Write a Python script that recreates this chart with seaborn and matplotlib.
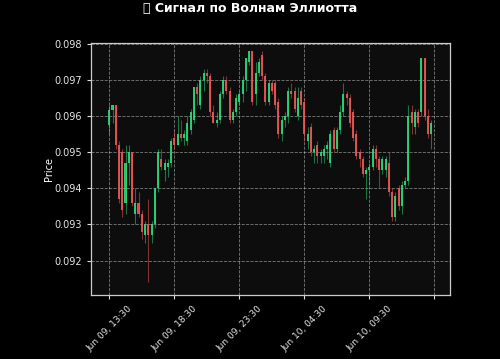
import matplotlib
matplotlib.use("Agg")
import matplotlib.pyplot as plt
import seaborn as sns
import numpy as np
import pandas as pd

# ---- data (15-minute candles starting Jun 09 13:30) ----
opens = [0.09574, 0.09618, 0.0963, 0.0952, 0.0950, 0.0936, 0.0947, 0.0950, 0.0933, 0.0936,
         0.0933, 0.0927, 0.0930, 0.0927, 0.0930, 0.0940, 0.0948, 0.0945, 0.0946, 0.0947,
         0.0954, 0.0952, 0.0955, 0.0954, 0.0953, 0.0956, 0.0959, 0.0968, 0.0963, 0.0970,
         0.0972, 0.0971, 0.0961, 0.0958, 0.0959, 0.0966, 0.0970, 0.0967, 0.0959, 0.0961,
         0.0964, 0.0966, 0.0970, 0.0975, 0.0978, 0.0966, 0.0972, 0.0977, 0.0971, 0.0964,
         0.0969, 0.0969, 0.0964, 0.0955, 0.0959, 0.0960, 0.0967, 0.0967, 0.0960, 0.0967,
         0.0964, 0.0953, 0.0957, 0.0950, 0.0952, 0.0949, 0.0949, 0.0951, 0.0947, 0.0956,
         0.0951, 0.0956, 0.0961, 0.0966, 0.0965, 0.0961, 0.0955, 0.0950, 0.0948, 0.0944,
         0.0945, 0.0946, 0.0951, 0.0948, 0.0945, 0.0945, 0.0947, 0.0939, 0.0932, 0.0940,
         0.0935, 0.0941, 0.0942, 0.0961, 0.0957, 0.0961, 0.0961, 0.0976, 0.0960, 0.0955]
highs = [0.0963, 0.0963, 0.0963, 0.0953, 0.0951, 0.0952, 0.0952, 0.0950, 0.0940, 0.0939,
         0.0934, 0.0931, 0.0937, 0.0931, 0.0940, 0.0951, 0.0951, 0.0948, 0.0948, 0.0954,
         0.0956, 0.0960, 0.0959, 0.0956, 0.0960, 0.0962, 0.0968, 0.0969, 0.0971, 0.0973,
         0.0973, 0.0972, 0.0963, 0.0961, 0.0967, 0.0971, 0.0971, 0.0968, 0.0962, 0.0966,
         0.0967, 0.0971, 0.0976, 0.0978, 0.0978, 0.0975, 0.0976, 0.0978, 0.0972, 0.0970,
         0.0970, 0.0970, 0.0965, 0.0960, 0.0961, 0.0968, 0.0969, 0.0968, 0.0968, 0.0968,
         0.0965, 0.0957, 0.0958, 0.0952, 0.0953, 0.0951, 0.0952, 0.0953, 0.0956, 0.0957,
         0.0957, 0.0963, 0.0969, 0.0967, 0.0966, 0.0962, 0.0956, 0.0951, 0.0949, 0.0946,
         0.0947, 0.0952, 0.0952, 0.0949, 0.0949, 0.0949, 0.0950, 0.0940, 0.0939, 0.0941,
         0.0942, 0.0943, 0.0963, 0.0963, 0.0962, 0.0962, 0.0976, 0.0976, 0.0962, 0.0959]
lows = [0.0955, 0.0958, 0.0951, 0.0936, 0.0932, 0.0933, 0.0941, 0.0935, 0.0930, 0.0932,
        0.0926, 0.0925, 0.0914, 0.0925, 0.0929, 0.0939, 0.0945, 0.0942, 0.0943, 0.0946,
        0.0951, 0.0952, 0.0953, 0.0952, 0.0952, 0.0955, 0.0958, 0.0963, 0.0962, 0.0967,
        0.0969, 0.0960, 0.0958, 0.0957, 0.0958, 0.0965, 0.0966, 0.0958, 0.0958, 0.0960,
        0.0963, 0.0964, 0.0967, 0.0974, 0.0963, 0.0963, 0.0971, 0.0970, 0.0963, 0.0963,
        0.0966, 0.0962, 0.0954, 0.0953, 0.0957, 0.0958, 0.0965, 0.0961, 0.0959, 0.0962,
        0.0953, 0.0951, 0.0949, 0.0947, 0.0947, 0.0947, 0.0947, 0.0948, 0.0946, 0.0950,
        0.0950, 0.0955, 0.0960, 0.0963, 0.0957, 0.0953, 0.0948, 0.0946, 0.0943, 0.0937,
        0.0941, 0.0945, 0.0946, 0.0940, 0.0944, 0.0943, 0.0938, 0.0931, 0.0931, 0.0934,
        0.0933, 0.0940, 0.0941, 0.0955, 0.0955, 0.0957, 0.0960, 0.0959, 0.0954, 0.0951]
closes = [0.09618, 0.0963, 0.0952, 0.0937, 0.0934, 0.0947, 0.0950, 0.0936, 0.0936, 0.0933,
          0.0928, 0.0930, 0.0927, 0.0930, 0.0940, 0.0950, 0.0946, 0.0947, 0.0947, 0.0953,
          0.0952, 0.0955, 0.0954, 0.0955, 0.0958, 0.0961, 0.0968, 0.0966, 0.0970, 0.0972,
          0.0971, 0.0961, 0.0958, 0.0959, 0.0966, 0.0970, 0.0967, 0.0959, 0.0961, 0.0965,
          0.0966, 0.0970, 0.0976, 0.0978, 0.0964, 0.0972, 0.0975, 0.0971, 0.0964, 0.0969,
          0.0967, 0.0963, 0.0955, 0.0959, 0.0960, 0.0967, 0.0966, 0.0962, 0.0965, 0.0963,
          0.0955, 0.0955, 0.0950, 0.0951, 0.0949, 0.0950, 0.0951, 0.0952, 0.0955, 0.0951,
          0.0956, 0.0961, 0.0966, 0.0965, 0.0958, 0.0954, 0.0949, 0.0948, 0.0944, 0.0945,
          0.0946, 0.0951, 0.0948, 0.0945, 0.0948, 0.0948, 0.0939, 0.0932, 0.0938, 0.0935,
          0.0941, 0.0942, 0.0960, 0.0958, 0.0961, 0.0958, 0.0976, 0.0960, 0.0955, 0.0958]

start_time = "2024-06-09 13:30"
freq = "15min"
tick_step = 20
y_ticks = [0.092, 0.093, 0.094, 0.095, 0.096, 0.097, 0.098]
title = "\U0001F30A Сигнал по Волнам Эллиотта"

times = pd.date_range(start_time, periods=len(closes), freq=freq)
df = pd.DataFrame({"time": times, "open": opens, "high": highs, "low": lows, "close": closes})
df["idx"] = np.arange(len(df))
df["up"] = df["close"] >= df["open"]

sns.set_theme(style="dark")
plt.rcParams["font.family"] = ["DejaVu Sans"]

UP = "#2bdc7c"
DOWN = "#ef5757"

fig = plt.figure(figsize=(5.0, 3.59), dpi=100, facecolor="black")
ax = fig.add_axes([90.7 / 500, 1 - 295 / 359, (450 - 90.7) / 500, (295 - 43) / 359])
ax.set_facecolor("#0d0d0d")

colors = np.where(df["up"], UP, DOWN)
ax.vlines(df["idx"], df["low"], df["high"], colors=colors, linewidth=0.8, alpha=0.5, zorder=2)
body_bottom = np.minimum(df["open"], df["close"])
body_height = np.maximum(np.abs(df["close"] - df["open"]), 0.00002)
ax.bar(df["idx"], body_height, bottom=body_bottom, width=0.65, color=colors,
       edgecolor="none", alpha=0.9, zorder=3)

ax.set_xlim(-5.72, 104.8)
ax.set_ylim(0.09105, 0.09802)
ax.set_yticks(y_ticks)
ax.set_yticklabels([f"{v:.3f}" for v in y_ticks])

ticks = list(range(0, len(df) + 1, tick_step))
labels = [df["time"].iloc[t].strftime("%b %d, %H:%M") if t < len(df) else "" for t in ticks]
ax.set_xticks(ticks)
ax.set_xticklabels(labels, rotation=45, ha="center")

ax.grid(True, color="white", linestyle="--", linewidth=0.6, alpha=0.45)
ax.tick_params(axis="both", colors="#dddddd", labelsize=7, length=3, width=0.8,
               bottom=True, left=True)
ax.tick_params(axis="x", labelsize=6.5)
for lbl in ax.get_xticklabels() + ax.get_yticklabels():
    lbl.set_color("#e6e6e6")
for sp in ax.spines.values():
    sp.set_color("#cccccc")
    sp.set_linewidth(0.9)
    sp.set_visible(True)

ax.set_ylabel("Price", color="white", fontsize=7, labelpad=0)
ax.set_xlabel("")
fig.text(0.5, 1 - 8 / 359, title, ha="center", va="center", color="white",
         fontsize=9, fontweight="bold", family=["DejaVu Sans"])

fig.savefig("out.png", dpi=100, facecolor="black")
